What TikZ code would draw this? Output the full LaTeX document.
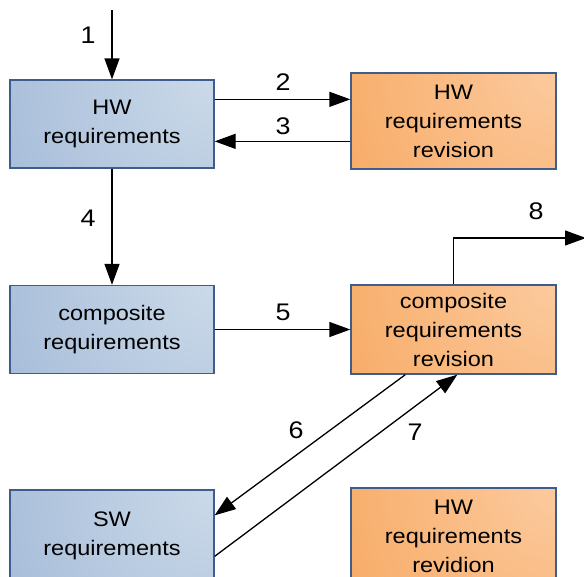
\documentclass[tikz,border=0pt]{standalone}
\usepackage{fontspec}
\setmainfont[FakeStretch=1.12]{Liberation Sans}
\usetikzlibrary{arrows.meta,calc}
\definecolor{bluebase}{HTML}{96AFD2}
\definecolor{bluelight}{HTML}{CBDAE9}
\definecolor{orangebase}{HTML}{F59E4E}
\definecolor{orangelight}{HTML}{FCCA9E}
\definecolor{bordercol}{HTML}{3F5D8C}
\tikzset{
  box/.style={draw=bordercol, line width=1.3pt, rectangle, inner sep=0pt,
    align=center, font=\fontsize{21}{29}\selectfont},
  bluebox/.style={box, fill=bluebase, path picture={
      \fill[inner color=bluelight, outer color=bluebase]
        (path picture bounding box.north east) circle (340pt);}},
  orangebox/.style={box, fill=orangebase, path picture={
      \fill[inner color=orangelight, outer color=orangebase]
        (path picture bounding box.north east) circle (340pt);}},
  conn/.style={line width=1.3pt, -{Triangle[length=21pt,width=15pt]}},
  lbl/.style={font=\fontsize{24}{24}\selectfont, inner sep=0pt},
}
\begin{document}
\begin{tikzpicture}[x=1pt,y=-1pt]
\useasboundingbox (0,0) rectangle (584,576);
\clip (0,0) rectangle (584,576);
\node[bluebox, minimum width=204pt, minimum height=88pt] (hwreq) at (112,124) {HW\\requirements};
\node[orangebox, minimum width=205pt, minimum height=96pt] (hwrev) at (453.5,121) {HW\\requirements\\revision};
\node[bluebox, minimum width=204pt, minimum height=88pt] (compreq) at (112,329.5) {composite\\requirements};
\node[orangebox, minimum width=205pt, minimum height=89pt] (comprev) at (453.5,329.5) {composite\\requirements\\revision};
\node[bluebox, minimum width=204pt, minimum height=92pt] (swreq) at (112,536) {SW\\requirements};
\node[orangebox, minimum width=205pt, minimum height=96pt] (hwrev2) at (453.5,536) {HW\\requirements\\revidion};

\coordinate (in1) at (112,10);
\coordinate (out8) at (586,238);

\draw[conn] (in1) -- (hwreq.north);
\draw[conn] ($(hwreq.north east)+(0,20)$) coordinate (a2) -- (a2 -| hwrev.west);
\draw[conn] ($(hwrev.north west)+(0,69)$) coordinate (a3) -- (a3 -| hwreq.east);
\draw[conn] (hwreq.south) -- (compreq.north);
\draw[conn] (compreq.east) -- (compreq.east -| comprev.west);
\draw[conn] (comprev.north) |- (out8);
\draw[conn] ($(comprev.south west)+(55,0)$) -- ($(swreq.north east)+(0,26)$);
\draw[conn] ($(swreq.north east)+(0,67)$) -- ($(comprev.south west)+(107,0)$);

\node[lbl] (l1) at (88,35) {1};
\node[lbl] (l2) at (283,82) {2};
\node[lbl] (l3) at (283,126) {3};
\node[lbl] (l4) at (88,218) {4};
\node[lbl] (l5) at (283,312) {5};
\node[lbl] (l8) at (536,211) {8};
\node[lbl] (l6) at (296,430) {6};
\node[lbl] (l7) at (415,432) {7};
\end{tikzpicture}
\end{document}
